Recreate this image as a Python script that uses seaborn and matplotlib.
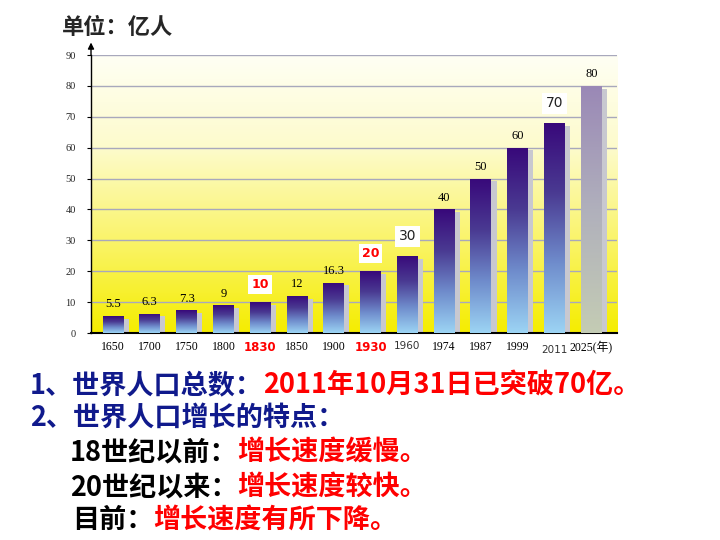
import numpy as np
import pandas as pd
import matplotlib
matplotlib.use("Agg")
import matplotlib.pyplot as plt
import seaborn as sns
from matplotlib.colors import LinearSegmentedColormap
from matplotlib.patches import Rectangle

# 数据
years = ['1650', '1700', '1750', '1800', '1830', '1850', '1900',
         '1930', '1960', '1974', '1987', '1999', '2011', '2025']
population = [5.5, 6.3, 7.3, 9, 10, 12, 16.3, 20, 25, 40, 50, 60, 68, 80]
value_labels = ['5.5', '6.3', '7.3', '9', '10', '12', '16.3',
                '20', '30', '40', '50', '60', '70', '80']
tick_labels = years[:-1] + ['2025(年)']
yticks = list(range(0, 100, 10))

sns.set_theme(style="white")
plt.rcParams['font.family'] = ['Noto Sans CJK SC', 'DejaVu Sans']

CJK = ['Noto Sans CJK SC', 'DejaVu Sans']
SERIF = ['Liberation Serif', 'Noto Sans CJK SC']

fig = plt.figure(figsize=(7.2, 5.4), dpi=100)
fig.patch.set_facecolor('white')
ax = fig.add_axes([0.1264, 0.3833, 0.7306, 0.5148])

df = pd.DataFrame({'year': years, 'pop': population})
sns.barplot(data=df, x='year', y='pop', ax=ax, width=0.57,
            color='#3c0a78', saturation=1, zorder=3)
bars = list(ax.patches)

# 背景渐变（下黄上白）
bg_cmap = LinearSegmentedColormap.from_list('bg', ['#f5ed00', '#faf46a', '#fdfbcc', '#fffff4'])
grad = np.linspace(0, 1, 256).reshape(-1, 1)
ax.imshow(grad, extent=[-0.6, 13.7, 0, 90], aspect='auto', cmap=bg_cmap,
          origin='lower', zorder=0)

bar_cmap = LinearSegmentedColormap.from_list('bar', ['#9cd4f4', '#6f8ccc', '#4a3a92', '#38087a'])
last_cmap = LinearSegmentedColormap.from_list('last', ['#c4ccb4', '#b0b0bc', '#9a88b6'])

for i, p in enumerate(bars):
    x0, w, h = p.get_x(), p.get_width(), p.get_height()
    # 阴影
    ax.add_patch(Rectangle((x0 + 0.14, 0), w, h - 0.9, facecolor='#c8c8d0',
                           edgecolor='none', zorder=2))
    im = ax.imshow(grad, extent=[x0, x0 + w, 0, h], aspect='auto',
                   cmap=last_cmap if i == len(bars) - 1 else bar_cmap,
                   origin='lower', zorder=3)
    im.set_clip_path(p)
    p.set_facecolor('none')
    p.set_edgecolor('none')

    lab = value_labels[i]
    cx = x0 + w / 2
    if lab in ('10', '20'):
        ax.annotate(lab, (cx, h), xytext=(0, 8), textcoords='offset points',
                    ha='center', va='bottom', fontsize=9, color='red',
                    fontweight='bold', family=['DejaVu Sans'],
                    bbox=dict(boxstyle='square,pad=0.25', fc='white', ec='none'),
                    zorder=5)
    elif lab in ('30', '70'):
        ax.annotate(lab, (cx, h), xytext=(0, 9), textcoords='offset points',
                    ha='center', va='bottom', fontsize=10, color='#222222',
                    family=['DejaVu Sans'],
                    bbox=dict(boxstyle='square,pad=0.25', fc='white', ec='none'),
                    zorder=5)
    else:
        ax.annotate(lab, (cx, h), xytext=(0, 4), textcoords='offset points',
                    ha='center', va='bottom', fontsize=9, color='black',
                    family=SERIF, zorder=5)

ax.set_xlim(-0.6, 13.7)
ax.set_ylim(0, 90)

# 网格线
ax.set_yticks(yticks)
ax.yaxis.grid(True, color='#a8a8bc', lw=1)
ax.xaxis.grid(False)
ax.set_axisbelow(True)

ax.set_xticks(range(len(tick_labels)), labels=tick_labels)
ax.tick_params(axis='x', length=0, pad=6)
ax.tick_params(axis='y', left=True, length=3, width=0.8, color='black',
               direction='out', labelsize=7.5, pad=8)
for t in ax.get_yticklabels():
    t.set_family(SERIF)
for t in ax.get_xticklabels():
    txt = t.get_text()
    if txt in ('1830', '1930'):
        t.set_color('red')
        t.set_fontweight('bold')
        t.set_family(['DejaVu Sans'])
        t.set_fontsize(8.5)
    elif txt in ('1960', '2011'):
        t.set_family(['DejaVu Sans'])
        t.set_fontsize(7.5)
        t.set_color('#333333')
    else:
        t.set_family(SERIF)
        t.set_fontsize(8.5)
        t.set_color('black')
for t in ax.get_xticklabels():
    if t.get_text() == '2011':
        t.set_y(-0.012)

ax.set_xlabel('')
ax.set_ylabel('')
for s in ['top', 'right']:
    ax.spines[s].set_visible(False)
ax.spines['left'].set_color('black')
ax.spines['left'].set_linewidth(1)
ax.spines['bottom'].set_color('black')
ax.spines['bottom'].set_linewidth(1.5)

# y轴箭头
ax.annotate('', xy=(0, 1.055), xytext=(0, 0.99), xycoords='axes fraction',
            arrowprops=dict(arrowstyle='-|>', color='black', lw=1, mutation_scale=9),
            annotation_clip=False)

fig.text(62 / 720, 1 - 28 / 540, '单位：亿人', fontsize=16, fontweight='bold',
         va='center', ha='left', family=CJK)

# 下方文字
blue = '#101a8c'
red = '#ff0000'
lines = [
    (30, 385, [('1、世界人口总数：', blue), ('2011年10月31日已突破70亿。', red)]),
    (30, 418, [('2、世界人口增长的特点：', blue)]),
    (70, 452, [('18世纪以前：', 'black'), ('增长速度缓慢。', red)]),
    (70, 487, [('20世纪以来：', 'black'), ('增长速度较快。', red)]),
    (72, 520, [('目前：', 'black'), ('增长速度有所下降。', red)]),
]
for x, y, parts in lines:
    prev = None
    for s, c in parts:
        if prev is None:
            prev = ax.annotate(s, xy=(x, 540 - y), xycoords='figure pixels',
                               ha='left', va='center', fontsize=19.5,
                               fontweight='bold', color=c, family=CJK,
                               annotation_clip=False)
        else:
            prev = ax.annotate(s, xy=(1, 0), xycoords=prev, ha='left',
                               va='bottom', fontsize=19.5, fontweight='bold',
                               color=c, family=CJK, annotation_clip=False)

fig.savefig('out.png', dpi=100, facecolor='white')
